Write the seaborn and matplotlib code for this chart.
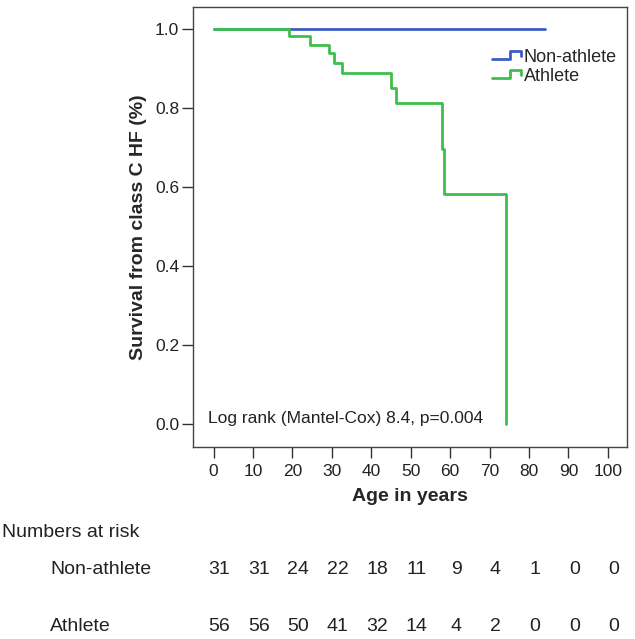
import numpy as np
import pandas as pd
import matplotlib
matplotlib.use("Agg")
import matplotlib.pyplot as plt
import matplotlib.transforms as mtransforms
from matplotlib.lines import Line2D
from matplotlib.legend_handler import HandlerBase
import seaborn as sns

# Kaplan-Meier step points (time, survival)
nonathlete_time = [0, 84]
nonathlete_surv = [1.0, 1.0]
athlete_time = [0, 19.2, 24.5, 29.3, 30.5, 32.5, 44.9, 46.4, 58.0, 58.4, 74.1]
athlete_surv = [1.0, 0.983, 0.960, 0.939, 0.914, 0.890, 0.851, 0.813, 0.696, 0.582, 0.0]

groups = ["Non-athlete", "Athlete"]
colors = {"Non-athlete": "#3f5cc4", "Athlete": "#3dbf4c"}

risk_ages = [0, 10, 20, 30, 40, 50, 60, 70, 80, 90, 100]
risk_nonathlete = [31, 31, 24, 22, 18, 11, 9, 4, 1, 0, 0]
risk_athlete = [56, 56, 50, 41, 32, 14, 4, 2, 0, 0, 0]

df = pd.concat([
    pd.DataFrame({"age": nonathlete_time, "surv": nonathlete_surv, "group": "Non-athlete"}),
    pd.DataFrame({"age": athlete_time, "surv": athlete_surv, "group": "Athlete"}),
], ignore_index=True)

sns.set_style("ticks")
plt.rcParams["font.family"] = ["Liberation Sans", "DejaVu Sans"]

fig = plt.figure(figsize=(6.35, 6.39), dpi=100)
ax = fig.add_axes([0.304, 0.3005, 0.683, 0.6886])

sns.lineplot(data=df, x="age", y="surv", hue="group", hue_order=groups,
             palette=colors, drawstyle="steps-post", estimator=None,
             sort=False, linewidth=2.0, legend=False, ax=ax)

ax.set_xlim(-5.2, 104.8)
ax.set_ylim(-0.058, 1.056)
ax.set_xticks(risk_ages)
ax.set_yticks([0.0, 0.2, 0.4, 0.6, 0.8, 1.0])
ax.set_yticklabels(["0.0", "0.2", "0.4", "0.6", "0.8", "1.0"])
ax.tick_params(axis="both", labelsize=12.5, length=8, width=1, color="#333333",
               labelcolor="#222222", direction="out")
ax.tick_params(axis="x", pad=4)
ax.tick_params(axis="y", pad=2)
for s in ax.spines.values():
    s.set_visible(True)
    s.set_color("#444444")
    s.set_linewidth(1.0)

ax.set_xlabel("Age in years", fontsize=14, fontweight="bold", labelpad=7)
ax.set_ylabel("Survival from class C HF (%)", fontsize=14, fontweight="bold", labelpad=6)

ax.text(-1.4, 0.015, "Log rank (Mantel-Cox) 8.4, p=0.004", fontsize=12.5,
        va="center", ha="left", color="#222222")


class StepHandler(HandlerBase):
    def create_artists(self, legend, orig_handle, xdescent, ydescent,
                       width, height, fontsize, trans):
        x0 = -xdescent
        y0 = -ydescent
        xs = [x0, x0 + 0.6 * width, x0 + 0.6 * width, x0 + width, x0 + width]
        ys = [y0 + 0.2 * height, y0 + 0.2 * height, y0 + 0.85 * height,
              y0 + 0.85 * height, y0 + 0.45 * height]
        ln = Line2D(xs, ys, color=orig_handle.get_color(), linewidth=2.0)
        ln.set_transform(trans)
        return [ln]


handles = [Line2D([], [], color=colors[g]) for g in groups]
ax.legend(handles, groups, loc="upper left", bbox_to_anchor=(0.69, 0.905),
          frameon=False, fontsize=13, handlelength=1.6, handletextpad=0.15,
          labelspacing=0.12, borderpad=0, borderaxespad=0,
          handler_map={Line2D: StepHandler()})

# numbers at risk table
trans = mtransforms.blended_transform_factory(ax.transData, fig.transFigure)
fig.text(0.003, 0.166, "Numbers at risk", fontsize=14, va="center", ha="left", color="#222222")
fig.text(0.079, 0.108, "Non-athlete", fontsize=14, va="center", ha="left", color="#222222")
fig.text(0.079, 0.020, "Athlete", fontsize=14, va="center", ha="left", color="#222222")
for a, n1, n2 in zip(risk_ages, risk_nonathlete, risk_athlete):
    ax.text(a + 1.5, 0.108, str(n1), transform=trans, fontsize=14, ha="center",
            va="center", color="#222222", clip_on=False)
    ax.text(a + 1.5, 0.020, str(n2), transform=trans, fontsize=14, ha="center",
            va="center", color="#222222", clip_on=False)

fig.savefig("out.png", dpi=100)
